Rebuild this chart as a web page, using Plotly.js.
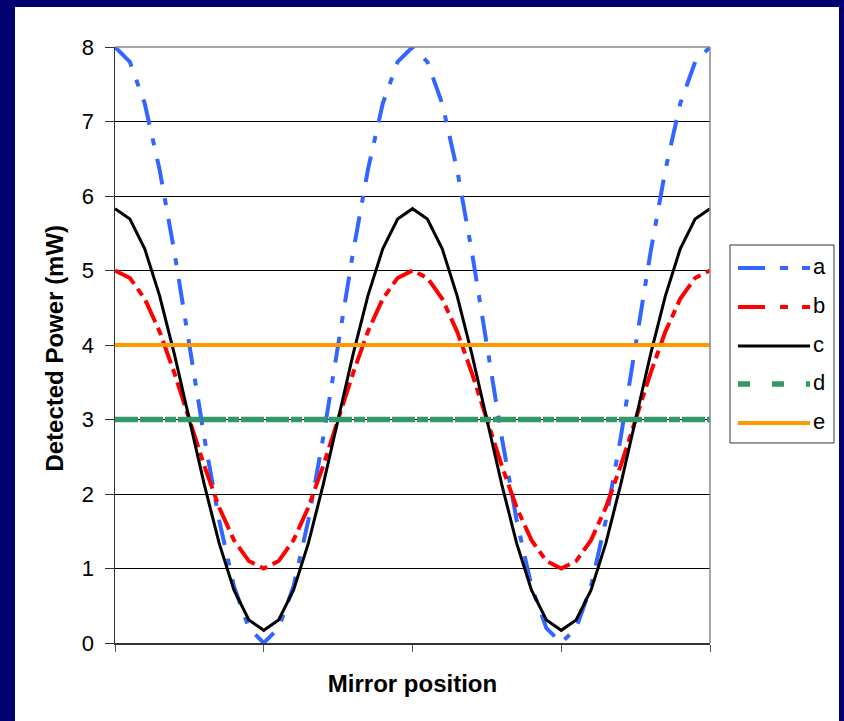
<!DOCTYPE html>
<html>
<head>
<meta charset="utf-8">
<script src="https://cdn.plot.ly/plotly-3.0.1.min.js"></script>
<style>
  html, body { margin: 0; padding: 0; background: #000070; width: 844px; height: 721px; overflow: hidden; }
  #chart { position: absolute; left: 15px; top: 7px; width: 824px; height: 714px; }
</style>
</head>
<body>
<div id="chart"></div>
<script>
// Mirror position categories (0..40), ticks every 10 categories
var positions = [];
for (var i = 0; i <= 40; i++) positions.push(i);
var tickPositions = [0, 10, 20, 30, 40];

// Series values (mW)
var seriesA = [8, 7.80, 7.24, 6.35, 5.24, 4.0, 2.76, 1.65, 0.76, 0.20, 0,
               0.20, 0.76, 1.65, 2.76, 4.0, 5.24, 6.35, 7.24, 7.80, 8,
               7.80, 7.24, 6.35, 5.24, 4.0, 2.76, 1.65, 0.76, 0.20, 0,
               0.20, 0.76, 1.65, 2.76, 4.0, 5.24, 6.35, 7.24, 7.80, 8];
var seriesB = [5, 4.90, 4.62, 4.18, 3.62, 3.0, 2.38, 1.82, 1.38, 1.10, 1.0,
               1.10, 1.38, 1.82, 2.38, 3.0, 3.62, 4.18, 4.62, 4.90, 5,
               4.90, 4.62, 4.18, 3.62, 3.0, 2.38, 1.82, 1.38, 1.10, 1.0,
               1.10, 1.38, 1.82, 2.38, 3.0, 3.62, 4.18, 4.62, 4.90, 5];
var seriesC = [5.83, 5.69, 5.29, 4.66, 3.87, 3.0, 2.13, 1.34, 0.71, 0.31, 0.17,
               0.31, 0.71, 1.34, 2.13, 3.0, 3.87, 4.66, 5.29, 5.69, 5.83,
               5.69, 5.29, 4.66, 3.87, 3.0, 2.13, 1.34, 0.71, 0.31, 0.17,
               0.31, 0.71, 1.34, 2.13, 3.0, 3.87, 4.66, 5.29, 5.69, 5.83];
var seriesD = [3, 3, 3, 3, 3, 3, 3, 3, 3, 3, 3,
               3, 3, 3, 3, 3, 3, 3, 3, 3, 3,
               3, 3, 3, 3, 3, 3, 3, 3, 3, 3,
               3, 3, 3, 3, 3, 3, 3, 3, 3, 3];
var seriesE = [4, 4, 4, 4, 4, 4, 4, 4, 4, 4, 4,
               4, 4, 4, 4, 4, 4, 4, 4, 4, 4,
               4, 4, 4, 4, 4, 4, 4, 4, 4, 4,
               4, 4, 4, 4, 4, 4, 4, 4, 4, 4];
var seriesNames = ['a', 'b', 'c', 'd', 'e'];
var yTicks = [0, 1, 2, 3, 4, 5, 6, 7, 8];
var xTitle = 'Mirror position';
var yTitle = 'Detected Power (mW)';

var colors = ['#3366FF', '#FF0000', '#000000', '#339966', '#FF9900'];
var widths = [4, 4, 3, 5.5, 4];
var plotDash = ['26px,14px,7px,14px', '24px,6px,8px,6px', 'solid', '23px,2px,23px,2px,11px,2px', 'solid'];
var legendDash = ['27px,15px,8px,14px,8px,14px', '27px,15px,8px,14px,8px,14px', 'solid', '12px,22px', 'solid'];
var allSeries = [seriesA, seriesB, seriesC, seriesD, seriesE];

var traces = allSeries.map(function (ys, k) {
  return {x: positions, y: ys, name: seriesNames[k], mode: 'lines', showlegend: false,
          line: {color: colors[k], width: widths[k], dash: plotDash[k]}};
});

// Legend box drawn in paper coordinates (Excel-style long line samples)
var shapes = [
  {type: 'line', xref: 'paper', yref: 'paper', x0: 1, x1: 1, y0: 0, y1: 1,
   line: {color: '#888888', width: 1.5}},
  {type: 'line', xref: 'paper', yref: 'paper', x0: 0, x1: 1, y0: 1, y1: 1,
   line: {color: '#888888', width: 1.5}},
  {type: 'rect', xref: 'paper', yref: 'paper', x0: 1.0336, x1: 1.2084, y0: 0.3356, y1: 0.6678,
   line: {color: '#333333', width: 1}, fillcolor: '#FFFFFF'}
];
var annotations = [
  {xref: 'paper', yref: 'paper', x: -0.1008, y: 0.494, xanchor: 'center', yanchor: 'middle',
   textangle: -90, text: '<b>' + yTitle + '</b>', showarrow: false,
   font: {size: 24, color: '#000000'}}
];
var legendY = [0.6292, 0.5638, 0.4983, 0.4346, 0.3691];
seriesNames.forEach(function (nm, k) {
  shapes.push({type: 'line', xref: 'paper', yref: 'paper', x0: 1.0471, x1: 1.1681,
               y0: legendY[k], y1: legendY[k],
               line: {color: colors[k], width: widths[k], dash: legendDash[k]}});
  annotations.push({xref: 'paper', yref: 'paper', x: 1.1700, y: legendY[k] + 0.002,
                    xanchor: 'left', yanchor: 'middle', text: nm, showarrow: false,
                    font: {size: 22, color: '#000000'}});
});

var layout = {
  width: 824, height: 714,
  paper_bgcolor: '#FFFFFF', plot_bgcolor: '#FFFFFF',
  margin: {l: 100, r: 129, t: 40, b: 78},
  font: {family: 'Liberation Sans, Arial, sans-serif', size: 22, color: '#000000'},
  showlegend: false,
  xaxis: {
    range: [0, 40], tickvals: tickPositions, ticktext: ['', '', '', '', ''],
    ticks: 'outside', ticklen: 7, tickcolor: '#555555', tickwidth: 1,
    showgrid: false, zeroline: false,
    showline: true, linecolor: '#333333', linewidth: 1.5, mirror: false,
    title: {text: '<b>' + xTitle + '</b>', font: {size: 24}, standoff: 20}
  },
  yaxis: {
    range: [0, 8], tickvals: yTicks,
    ticks: 'outside', ticklen: 9, tickcolor: '#333333',
    ticklabelstandoff: 6, tickfont: {size: 22},
    showgrid: true, gridcolor: '#000000', gridwidth: 1,
    zeroline: false, showline: true, linecolor: '#333333', linewidth: 1.5
  },
  shapes: shapes,
  annotations: annotations
};

Plotly.newPlot('chart', traces, layout, {displayModeBar: false, staticPlot: true});
</script>
</body>
</html>
